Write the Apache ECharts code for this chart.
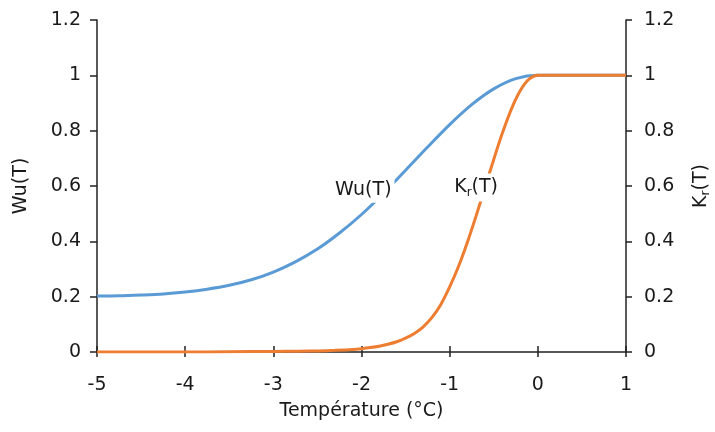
<!DOCTYPE html>
<html>
<head>
<meta charset="utf-8">
<script src="https://cdn.jsdelivr.net/npm/echarts@6/dist/echarts.min.js"></script>
<style>
  html, body { margin: 0; padding: 0; background: #fff; }
  #chart { width: 715px; height: 432px; }
</style>
</head>
<body>
<div id="chart"></div>
<script>
// température (°C) et courbes
var tempWu = [-5, -4.75, -4.5, -4.25, -4, -3.75, -3.5, -3.25, -3, -2.75, -2.5, -2.25, -2,
  -1.75, -1.5, -1.25, -1, -0.75, -0.5, -0.25, 0, 0.25, 0.5, 0.75, 1];
var wuValues = [0.202, 0.203, 0.206, 0.21, 0.217, 0.227, 0.241, 0.261, 0.289, 0.326, 0.372, 0.43, 0.497,
  0.574, 0.657, 0.741, 0.822, 0.894, 0.951, 0.988, 1, 1, 1, 1, 1];

var tempKr = [-5, -4.5, -4, -3.5, -3, -2.7, -2.5, -2.3, -2.1, -2, -1.9, -1.8, -1.7, -1.6, -1.5, -1.4,
  -1.3, -1.2, -1.1, -1, -0.9, -0.8, -0.7, -0.6, -0.5, -0.4, -0.3, -0.2, -0.1, 0, 0.5, 1];
var krValues = [0, 0, 0, 0.001, 0.002, 0.003, 0.004, 0.006, 0.009, 0.012, 0.016, 0.021, 0.028, 0.037, 0.05, 0.067,
  0.091, 0.125, 0.172, 0.235, 0.309, 0.396, 0.492, 0.594, 0.696, 0.793, 0.878, 0.944, 0.986, 1, 1, 1];

var xTicks = { min: -5, max: 1, interval: 1 };
var yTicks = { min: 0, max: 1.2, interval: 0.2 };

function pairs(xs, ys) {
  var out = [];
  for (var i = 0; i < xs.length; i++) out.push([xs[i], ys[i]]);
  return out;
}

var FONT = 'DejaVu Sans';
var AXIS_COLOR = '#222';
var textStyle = { fontFamily: FONT, fontSize: 19, color: '#1a1a1a' };
var subStyle = { fontFamily: FONT, fontSize: 12, color: '#1a1a1a', padding: [10, 0, 0, 0] };

var chart = echarts.init(document.getElementById('chart'));

var option = {
  animation: false,
  backgroundColor: '#fff',
  textStyle: { fontFamily: FONT },
  grid: { left: 97, right: 89, top: 20, bottom: 80, containLabel: false, outerBoundsMode: 'none' },
  xAxis: [
    {
      type: 'value',
      min: xTicks.min, max: xTicks.max, interval: xTicks.interval,
      name: 'Température (°C)',
      nameLocation: 'middle',
      nameGap: 50,
      nameTextStyle: textStyle,
      axisLine: { onZero: false, lineStyle: { color: AXIS_COLOR, width: 1.5 } },
      axisTick: { show: true, inside: false, length: 5, lineStyle: { color: AXIS_COLOR, width: 1.5 } },
      axisLabel: Object.assign({ margin: 24 }, textStyle),
      splitLine: { show: false }
    },
    {
      type: 'value',
      position: 'bottom',
      min: xTicks.min, max: xTicks.max, interval: xTicks.interval,
      axisLine: { show: false },
      axisTick: { show: true, inside: true, length: 6, lineStyle: { color: AXIS_COLOR, width: 1.5 } },
      axisLabel: { show: false },
      splitLine: { show: false }
    }
  ],
  yAxis: [
    {
      type: 'value',
      position: 'left',
      min: yTicks.min, max: yTicks.max, interval: yTicks.interval,
      name: 'Wu(T)',
      nameLocation: 'middle',
      nameGap: 66,
      nameRotate: 90,
      nameTextStyle: textStyle,
      axisLine: { show: true, onZero: false, lineStyle: { color: AXIS_COLOR, width: 1.5 } },
      axisTick: { show: true, length: 7, lineStyle: { color: AXIS_COLOR, width: 1.5 } },
      axisLabel: Object.assign({ margin: 16 }, textStyle),
      splitLine: { show: false }
    },
    {
      type: 'value',
      position: 'right',
      min: yTicks.min, max: yTicks.max, interval: yTicks.interval,
      name: '{n|K}{s|r}{n|(T)}',
      nameLocation: 'middle',
      nameGap: 64,
      nameRotate: 90,
      nameTextStyle: { rich: { n: textStyle, s: subStyle } },
      axisLine: { show: true, onZero: false, lineStyle: { color: AXIS_COLOR, width: 1.5 } },
      axisTick: { show: true, length: 6, lineStyle: { color: AXIS_COLOR, width: 1.5 } },
      axisLabel: Object.assign({ margin: 18 }, textStyle),
      splitLine: { show: false }
    }
  ],
  series: [
    {
      name: 'Wu(T)',
      type: 'line',
      xAxisIndex: 0,
      yAxisIndex: 0,
      data: pairs(tempWu, wuValues),
      smooth: 0.3,
      showSymbol: false,
      lineStyle: { color: '#5b9bd5', width: 3 },
      markPoint: {
        symbol: 'rect',
        symbolSize: 1,
        itemStyle: { color: 'rgba(0,0,0,0)' },
        data: [{ coord: [-1.98, 0.585] }],
        label: {
          show: true,
          position: 'inside',
          formatter: 'Wu(T)',
          fontFamily: FONT, fontSize: 19, color: '#1a1a1a',
          backgroundColor: '#fff',
          padding: [3, 3]
        }
      }
    },
    {
      name: 'Kr(T)',
      type: 'line',
      xAxisIndex: 0,
      yAxisIndex: 1,
      data: pairs(tempKr, krValues),
      smooth: 0.3,
      showSymbol: false,
      lineStyle: { color: '#ed7d31', width: 3 },
      markPoint: {
        symbol: 'rect',
        symbolSize: 1,
        itemStyle: { color: 'rgba(0,0,0,0)' },
        data: [{ coord: [-0.7, 0.595] }],
        label: {
          show: true,
          position: 'inside',
          formatter: '{n|K}{s|r}{n|(T)}',
          backgroundColor: '#fff',
          padding: [3, 2],
          rich: { n: textStyle, s: subStyle }
        }
      }
    }
  ]
};

chart.setOption(option);
</script>
</body>
</html>
